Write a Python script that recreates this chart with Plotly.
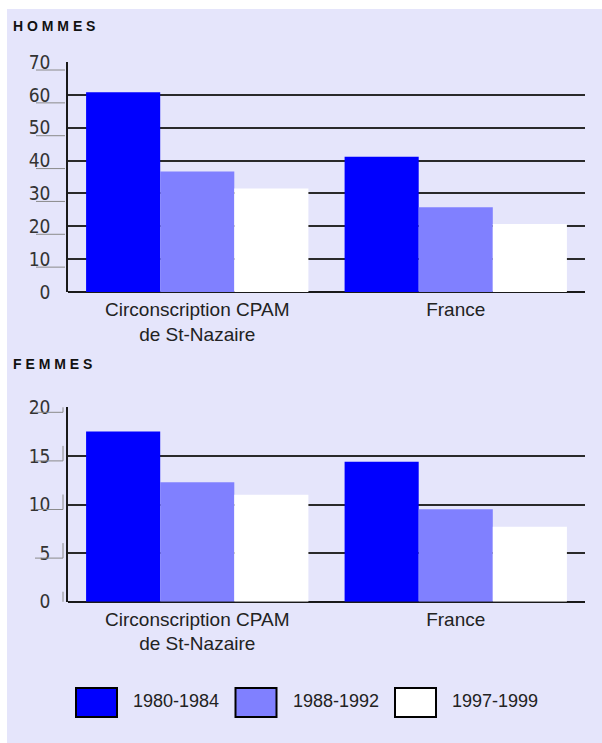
import plotly.graph_objects as go

W, H = 602, 743

categories = ["Circonscription CPAM<br>de St-Nazaire", "France"]
series_names = ["1980-1984", "1988-1992", "1997-1999"]
series_colors = ["#0000FF", "#8080FF", "#FFFFFF"]

hommes_1980_1984 = [60.8, 41.2]
hommes_1988_1992 = [36.7, 25.8]
hommes_1997_1999 = [31.5, 20.7]

femmes_1980_1984 = [17.5, 14.4]
femmes_1988_1992 = [12.3, 9.5]
femmes_1997_1999 = [11.0, 7.7]

hommes_ticks = [0, 10, 20, 30, 40, 50, 60, 70]
femmes_ticks = [0, 5, 10, 15, 20]

hommes = [hommes_1980_1984, hommes_1988_1992, hommes_1997_1999]
femmes = [femmes_1980_1984, femmes_1988_1992, femmes_1997_1999]

def px(x):
    return x / W

def py(y):
    return 1 - y / H

fig = go.Figure()
for name, color, vals in zip(series_names, series_colors, hommes):
    fig.add_trace(go.Bar(x=categories, y=vals, name=name, marker=dict(color=color, line=dict(width=0)),
                         xaxis="x", yaxis="y", showlegend=False))
for name, color, vals in zip(series_names, series_colors, femmes):
    fig.add_trace(go.Bar(x=categories, y=vals, name=name, marker=dict(color=color, line=dict(width=0)),
                         xaxis="x2", yaxis="y2", showlegend=False))

tickfont = dict(family="Liberation Sans Narrow, Arial Narrow, DejaVu Sans Condensed, sans-serif", size=19, color="#333333")
catfont = dict(family="Liberation Sans, Arial, sans-serif", size=19, color="#222222")
legfont = dict(family="Liberation Sans, Arial, sans-serif", size=18, color="#222222")

xcommon = dict(domain=[px(68), px(585)], showgrid=False, ticks="", tickfont=catfont,
               showline=False, zeroline=False, ticklabelstandoff=4, automargin=False, fixedrange=True)
ycommon = dict(showgrid=True, gridcolor="#2a2a2a", gridwidth=1.5, showline=True, linecolor="#1a1a1a",
               linewidth=1.5, zeroline=True, zerolinecolor="#1a1a1a", zerolinewidth=2,
               tickfont=tickfont, ticks="", ticklabelstandoff=12, automargin=False, fixedrange=True)

fig.update_layout(
    width=W, height=H,
    margin=dict(l=0, r=0, t=0, b=0, pad=0),
    paper_bgcolor="white",
    plot_bgcolor="rgba(0,0,0,0)",
    barmode="group", bargap=0.14, bargroupgap=0,
    showlegend=False,
    xaxis=dict(anchor="y", **xcommon),
    yaxis=dict(anchor="x", domain=[py(292), py(62)], range=[0, 70], tickvals=hommes_ticks, **ycommon),
    xaxis2=dict(anchor="y2", **xcommon),
    yaxis2=dict(anchor="x2", domain=[py(601.7), py(407.3)], range=[0, 20], tickvals=femmes_ticks, **ycommon),
)

shapes = [dict(type="rect", xref="paper", yref="paper", x0=px(7), x1=1, y0=0, y1=py(9),
               fillcolor="#E5E5FB", line=dict(width=0), layer="below")]

# underlines beneath y tick labels
for v in hommes_ticks:
    shapes.append(dict(type="line", xref="paper", yref="y", ysizemode="pixel", yanchor=v,
                       x0=px(36), x1=px(65), y0=-8, y1=-8, line=dict(color="#8a8a8a", width=1)))
for v in femmes_ticks:
    shapes.append(dict(type="line", xref="paper", yref="y2", ysizemode="pixel", yanchor=v,
                       x0=px(35), x1=px(63), y0=-5, y1=-5, line=dict(color="#8a8a8a", width=1)))
    shapes.append(dict(type="line", xref="paper", yref="y2", ysizemode="pixel", yanchor=v,
                       x0=px(63), x1=px(63), y0=10, y1=-5, line=dict(color="#8a8a8a", width=1)))

titlefont = dict(family="Liberation Sans, Arial, sans-serif", size=14, color="#111111", weight="bold")
annotations = [
    dict(text="H O M M E S", x=px(11), y=py(26), xref="paper", yref="paper", xanchor="left", yanchor="middle",
         showarrow=False, font=titlefont),
    dict(text="F E M M E S", x=px(11), y=py(364), xref="paper", yref="paper", xanchor="left", yanchor="middle",
         showarrow=False, font=titlefont),
]

# custom legend with large boxes
for i, (name, color) in enumerate(zip(series_names, series_colors)):
    bx = 76 + i * 159.5
    shapes.append(dict(type="rect", xref="paper", yref="paper", x0=px(bx), x1=px(bx + 41),
                       y0=py(717), y1=py(688), fillcolor=color, line=dict(color="#000000", width=2)))
    annotations.append(dict(text=name, x=px(bx + 55), y=py(701), xref="paper", yref="paper",
                            xanchor="left", yanchor="middle", showarrow=False, font=legfont))

fig.update_layout(shapes=shapes, annotations=annotations)
fig.write_html("out.html", post_script="document.body.style.margin='0';",
               config={"displayModeBar": False})
